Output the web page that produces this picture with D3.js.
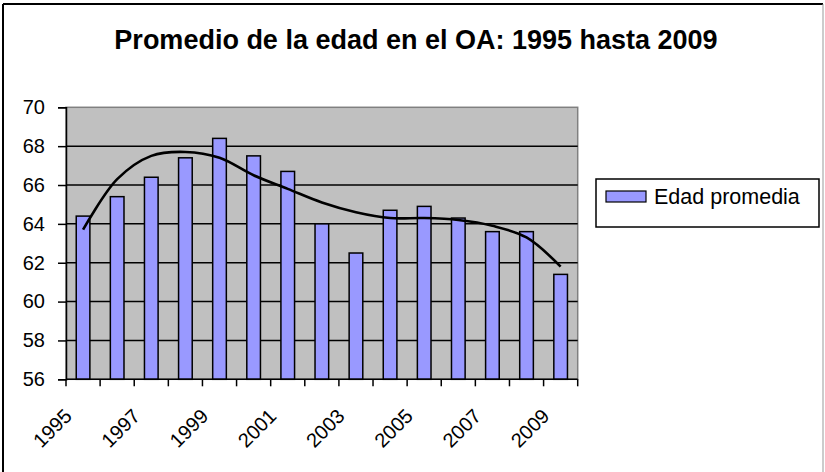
<!DOCTYPE html>
<html lang="es">
<head>
  <meta charset="UTF-8">
  <title>Promedio de la edad en el OA: 1995 hasta 2009</title>
  <script src="https://d3js.org/d3.v7.min.js"></script>
  <style>
    body
    {
      margin: 0;
      background-color: #ffffff;
    }

    svg
    {
      display: block;
      font-family: "Liberation Sans", Arial, sans-serif;
    }
  </style>
</head>
<body>
  <svg width="825" height="472"></svg>
  <script>
    // data
    const years = ["1995", "1996", "1997", "1998", "1999", "2000", "2001", "2002",
                   "2003", "2004", "2005", "2006", "2007", "2008", "2009"];
    const edadPromedia = [64.4, 65.4, 66.4, 67.4, 68.4, 67.5, 66.7, 64.0,
                          62.5, 64.7, 64.9, 64.3, 63.6, 63.6, 61.4];
    const tendencia = [63.7, 66.3, 67.5, 67.7, 67.4, 66.5, 65.8, 65.1,
                       64.6, 64.3, 64.3, 64.2, 63.9, 63.3, 61.8];
    const yTicks = [56, 58, 60, 62, 64, 66, 68, 70];
    const xLabels = ["1995", "1997", "1999", "2001", "2003", "2005", "2007", "2009"];

    const width = 825;
    const height = 472;
    const plot = { left: 66, top: 107.3, right: 577.7, bottom: 379.3 };

    const svg = d3.select("svg");

    // outer frame
    svg.append("line")
      .attr("x1", 3).attr("y1", 4).attr("x2", 823).attr("y2", 4)
      .attr("stroke", "#000").attr("stroke-width", 2);
    svg.append("line")
      .attr("x1", 3).attr("y1", 4).attr("x2", 3).attr("y2", height)
      .attr("stroke", "#000").attr("stroke-width", 2);
    svg.append("line")
      .attr("x1", 823).attr("y1", 4).attr("x2", 823).attr("y2", height)
      .attr("stroke", "#999").attr("stroke-width", 1);

    svg.append("text")
      .attr("x", 416)
      .attr("y", 49)
      .attr("text-anchor", "middle")
      .style("font-size", "27px")
      .style("font-weight", "bold")
      .text("Promedio de la edad en el OA: 1995 hasta 2009");

    const x = d3.scaleBand()
      .domain(years)
      .range([plot.left, plot.right])
      .padding(0);

    const y = d3.scaleLinear()
      .domain([56, 70])
      .range([plot.bottom, plot.top]);

    // plot background
    svg.append("rect")
      .attr("x", plot.left)
      .attr("y", plot.top)
      .attr("width", plot.right - plot.left)
      .attr("height", plot.bottom - plot.top)
      .attr("fill", "#c0c0c0")
      .attr("stroke", "#808080")
      .attr("stroke-width", 1.5);

    //gridlines
    svg.append("g")
      .selectAll("line")
      .data(yTicks.filter(d => d > 56 && d < 70))
      .join("line")
      .attr("x1", plot.left)
      .attr("x2", plot.right)
      .attr("y1", d => y(d))
      .attr("y2", d => y(d))
      .attr("stroke", "#000")
      .attr("stroke-width", 1.5);

    const barWidth = x.bandwidth() * 0.4;

    svg.append("g")
      .selectAll("rect")
      .data(years)
      .join("rect")
      .attr("x", (d, i) => x(d) + (x.bandwidth() - barWidth) / 2)
      .attr("y", (d, i) => y(edadPromedia[i]))
      .attr("width", barWidth)
      .attr("height", (d, i) => y(56) - y(edadPromedia[i]))
      .attr("fill", "#9999ff")
      .attr("stroke", "#000")
      .attr("stroke-width", 1.5);

    const line = d3.line()
      .x((d, i) => x(years[i]) + x.bandwidth() / 2)
      .y(d => y(d))
      .curve(d3.curveCatmullRom.alpha(0.5));

    svg.append("path")
      .datum(tendencia)
      .attr("d", line)
      .attr("fill", "none")
      .attr("stroke", "#000")
      .attr("stroke-width", 2.6);

    // y axis
    const yAxis = svg.append("g")
      .attr("transform", `translate(${plot.left},0)`)
      .call(d3.axisLeft(y).tickValues(yTicks).tickSize(8).tickPadding(13));
    yAxis.select(".domain").attr("stroke", "#000").attr("stroke-width", 1.5);
    yAxis.selectAll(".tick line").attr("stroke", "#000").attr("stroke-width", 1.5);
    yAxis.selectAll(".tick text")
      .attr("fill", "#000")
      .style("font-size", "20px")
      .style("font-family", "'Liberation Sans', Arial, sans-serif");

    // x axis: ticks on category boundaries
    const xEdges = years.map(d => x(d)).concat([plot.right]);
    svg.append("line")
      .attr("x1", plot.left).attr("x2", plot.right)
      .attr("y1", plot.bottom).attr("y2", plot.bottom)
      .attr("stroke", "#000").attr("stroke-width", 1.5);
    svg.append("g")
      .selectAll("line")
      .data(xEdges)
      .join("line")
      .attr("x1", d => d).attr("x2", d => d)
      .attr("y1", plot.bottom).attr("y2", plot.bottom + 7)
      .attr("stroke", "#000").attr("stroke-width", 1.5);

    svg.append("g")
      .selectAll("text")
      .data(xLabels)
      .join("text")
      .attr("text-anchor", "end")
      .attr("transform", d => `translate(${x(d) + x.bandwidth() / 2 - 10},${plot.bottom + 38}) rotate(-45)`)
      .style("font-size", "20px")
      .text(d => d);

    // legend
    const legend = svg.append("g");
    legend.append("rect")
      .attr("x", 596).attr("y", 179)
      .attr("width", 223).attr("height", 48)
      .attr("fill", "#fff")
      .attr("stroke", "#000")
      .attr("stroke-width", 1.5);
    legend.append("rect")
      .attr("x", 606).attr("y", 191)
      .attr("width", 40).attr("height", 11)
      .attr("fill", "#9999ff")
      .attr("stroke", "#000")
      .attr("stroke-width", 1.2);
    legend.append("text")
      .attr("x", 654).attr("y", 204)
      .style("font-size", "21.5px")
      .text("Edad promedia");
  </script>
</body>
</html>
